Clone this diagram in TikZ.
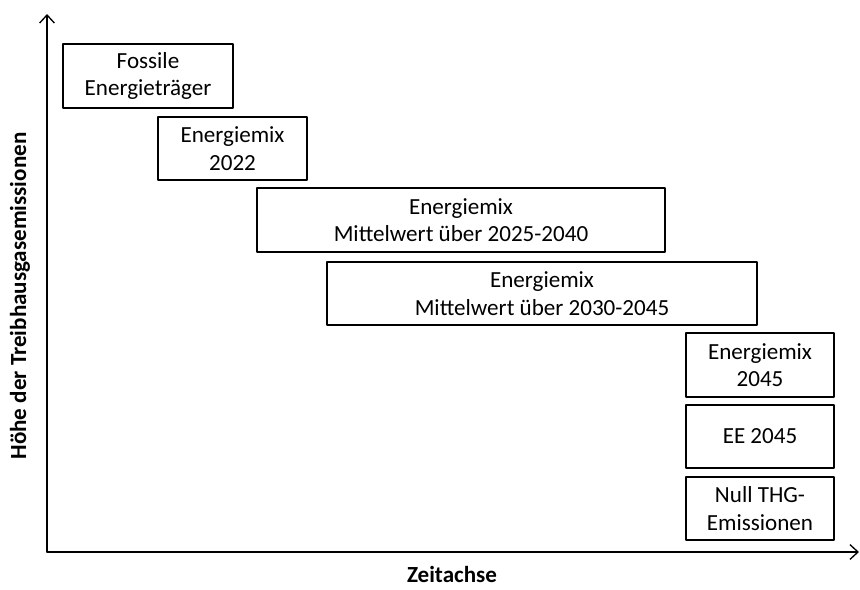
\documentclass[tikz,border=0pt]{standalone}
\usepackage{fontspec}
\setmainfont{Carlito}
\usetikzlibrary{arrows.meta}

\begin{document}
\begin{tikzpicture}[x=0.75pt,y=-0.75pt,>={Straight Barb[length=6pt,width=11pt]},
    line cap=round,line join=round,
    stage/.style={draw,line width=1pt,inner sep=0pt,align=center,
      font=\fontsize{17.3}{20.5}\selectfont},
    axis/.style={->,line width=1pt},
    axislabel/.style={inner sep=0pt,font=\fontsize{17.3}{20}\selectfont\bfseries}]
    \useasboundingbox (0,0) rectangle (860,589);

    % The two axes.
    \coordinate (origin) at (47,552);
    \coordinate (ytop) at (47,14);
    \coordinate (xend) at (859,552);
    \draw[axis] (origin) -- (ytop);
    \draw[axis] (origin) -- (xend);

    \node[axislabel,rotate=90] (ylab) at (20,296) {Höhe der Treibhausgasemissionen};
    \node[axislabel,anchor=base] (xlab) at (452,582) {Zeitachse};

    % The emission stages, falling from top left to bottom right.
    \node[stage,minimum width=127.5pt,minimum height=48pt] (fossil) at (148,76)
      {Fossile\\Energieträger};
    \node[stage,minimum width=111.75pt,minimum height=47.25pt] (mixtt) at (232.5,148.5)
      {Energiemix\\2022};
    \node[stage,minimum width=306pt,minimum height=48pt] (mixtf) at (461,220)
      {Energiemix\\Mittelwert über 2025-2040};
    \node[stage,minimum width=322.5pt,minimum height=47.25pt] (mixth) at (542,293.5)
      {Energiemix\\Mittelwert über 2030-2045};

    % The three end states in 2045.
    \node[stage,minimum width=111pt,minimum height=48pt] (mixff) at (760,365)
      {Energiemix\\2045};
    \node[stage,minimum width=111pt,minimum height=47.25pt] (eeff) at (760,436.5)
      {EE 2045};
    \node[stage,minimum width=111pt,minimum height=47.25pt] (nullthg) at (760,508.5)
      {Null THG-\\Emissionen};
\end{tikzpicture}
\end{document}
